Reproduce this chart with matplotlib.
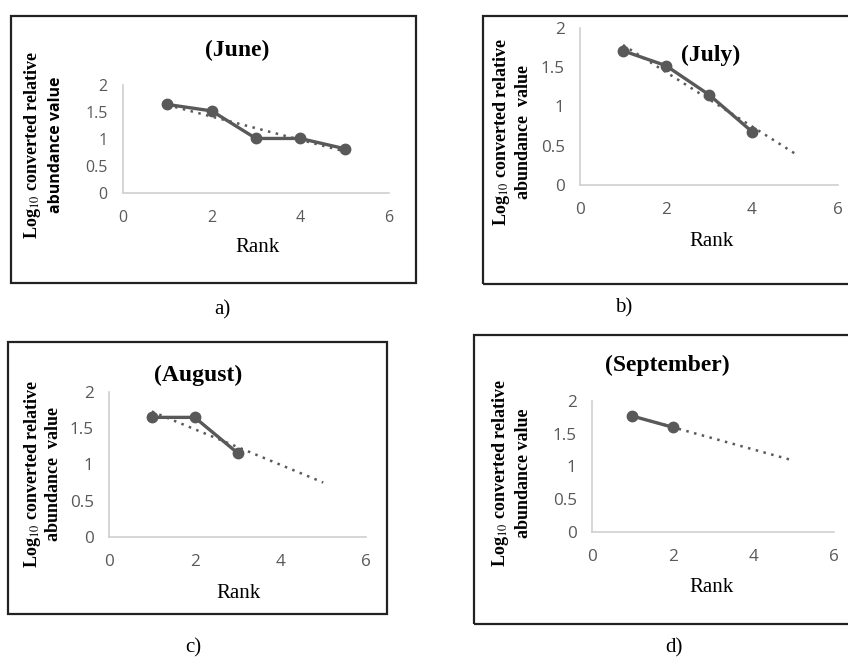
import numpy as np
import matplotlib
matplotlib.use('Agg')
from matplotlib import pyplot as plt
from matplotlib.patches import Rectangle

plt.rcParams['mathtext.fontset'] = 'stix'

# data
ranks_june = [1, 2, 3, 4, 5]
june = [1.64, 1.52, 1.01, 1.01, 0.82]
ranks_july = [1, 2, 3, 4]
july = [1.71, 1.52, 1.15, 0.68]
ranks_august = [1, 2, 3]
august = [1.65, 1.65, 1.16]
ranks_september = [1, 2]
september = [1.77, 1.60]

x_ticks = [0, 2, 4, 6]
y_ticks = [0, 0.5, 1, 1.5, 2]
y_tick_labels = ['0', '0.5', '1', '1.5', '2']

W, H = 848, 660
fig = plt.figure(figsize=(W / 100, H / 100), dpi=100)

GREY = '#595959'
SERIF = 'Liberation Serif'
SANS = 'Open Sans'

caption_line2 = {'a)': 'abundance value', 'b)': 'abundance  value',
                 'c)': 'abundance  value', 'd)': 'abundance value'}


def px(x, y):
    return x / W, 1 - y / H


def box(x0, y0, x1, y1):
    fig.patches.append(Rectangle(px(x0, y1), (x1 - x0) / W, (y1 - y0) / H,
                                 transform=fig.transFigure, fill=False,
                                 edgecolor='#222222', linewidth=1.6))


def panel(ranks, vals, left, right, y0, y2, title, title_xy, rank_xy,
          ylab_x, ylab_y, caption, cap_xy, line2_family=SERIF, tick_size=12.3):
    ax = fig.add_axes([left / W, 1 - y0 / H, (right - left) / W, (y0 - y2) / H])
    ax.set_xlim(0, 6)
    ax.set_ylim(0, 2)
    # linear trendline, forecast forward to rank 5
    k, b = np.polyfit(ranks, vals, 1)
    tx = np.array([1, 5])
    ax.plot(tx, k * tx + b, color=GREY, linestyle=(0, (1, 2.2)), linewidth=1.8)
    ax.plot(ranks, vals, color=GREY, linewidth=2.4, marker='o', markersize=7.5)
    for s in ['top', 'right']:
        ax.spines[s].set_visible(False)
    for s in ['left', 'bottom']:
        ax.spines[s].set_color('#d0d0d0')
        ax.spines[s].set_linewidth(1.2)
    ax.set_xticks(x_ticks)
    ax.set_yticks(y_ticks)
    ax.set_yticklabels(y_tick_labels)
    ax.tick_params(length=0, labelcolor=GREY, labelsize=tick_size)
    ax.tick_params(axis='x', pad=12)
    ax.tick_params(axis='y', pad=11)
    for t in ax.get_xticklabels() + ax.get_yticklabels():
        t.set_family(SANS)
    ax.patch.set_alpha(0)

    fig.text(*px(*title_xy), title, ha='center', va='center',
             family=SERIF, fontweight='bold', fontsize=17)
    fig.text(*px(*rank_xy), 'Rank', ha='center', va='center',
             family=SERIF, fontsize=15)
    fig.text(*px(ylab_x[0], ylab_y), r'Log$_{10}$ converted relative',
             rotation=90, ha='center', va='center', family=SERIF,
             fontweight='bold', fontsize=13)
    fig.text(*px(ylab_x[1], ylab_y), caption_line2[caption],
             rotation=90, ha='center', va='center', family=line2_family,
             fontweight='bold', fontsize=13 if line2_family == SERIF else 11.5)
    fig.text(*px(*cap_xy), caption, ha='center', va='center',
             family=SERIF, fontsize=15)


box(11, 16, 416, 283)
box(483, 16, 852, 284)
box(8, 342, 387, 614)
box(474, 335, 852, 624)

panel(ranks_june, june, 123, 389, 193, 85, '(June)', (237, 50), (257, 247),
      (33, 56), 145, 'a)', (222, 310), line2_family=SANS, tick_size=11.5)
panel(ranks_july, july, 580, 838, 185, 28, '(July)', (711, 55), (711, 242),
      (502, 524), 132, 'b)', (624, 308))
panel(ranks_august, august, 109, 366, 537, 392, '(August)', (198, 375), (239, 593),
      (33, 54), 474, 'c)', (193, 648))
panel(ranks_september, september, 592, 834, 532, 401, '(September)', (667, 365),
      (712, 587), (500, 523), 473, 'd)', (674, 648))

fig.savefig('out.png', dpi=100)
